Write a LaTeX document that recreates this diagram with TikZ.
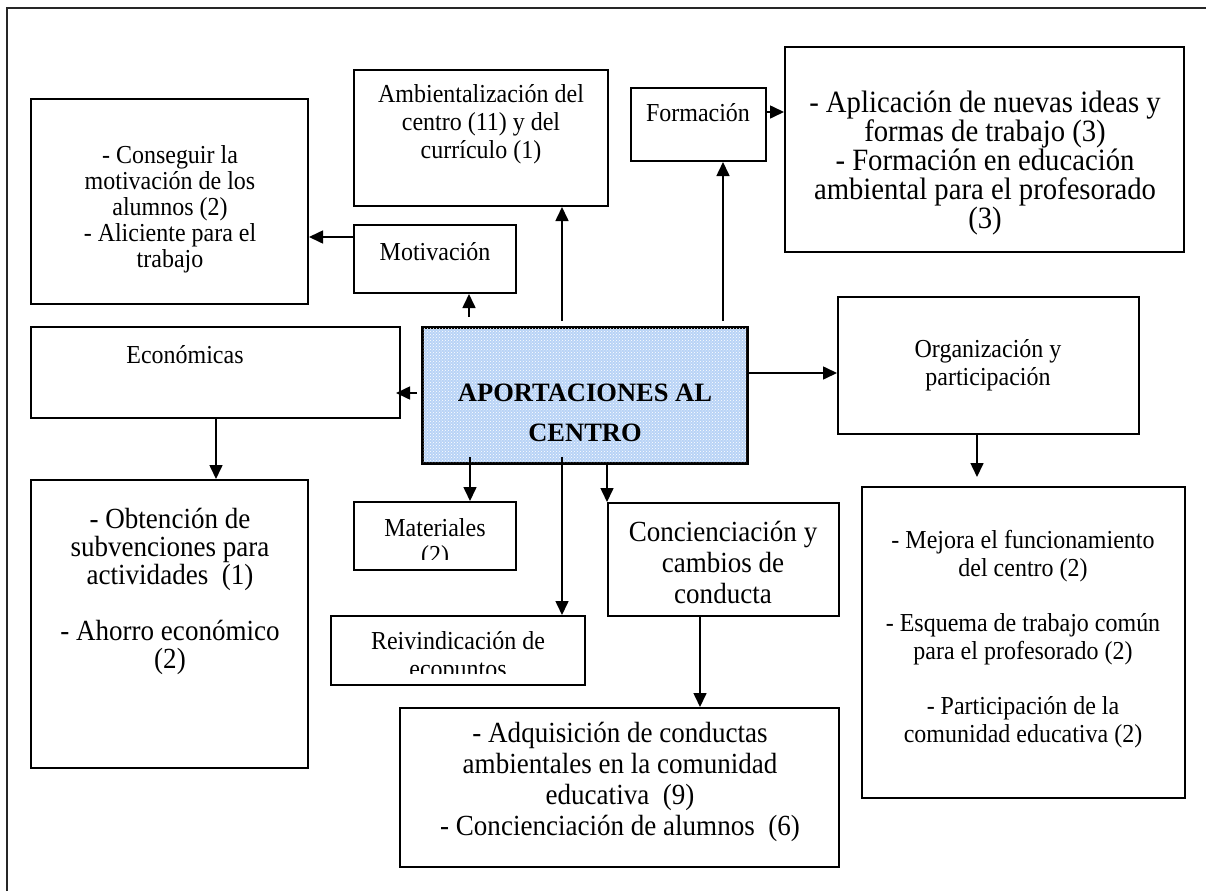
\documentclass[tikz,border=0pt]{standalone}
\usepackage{fontspec}
\setmainfont{Liberation Serif}[FakeStretch=0.926]
\newfontfamily\boldplain{Liberation Serif}
\usetikzlibrary{arrows.meta,fit,patterns}
\newcommand\fsz[2]{\fontsize{#1}{#2}\selectfont}
\definecolor{cfill}{RGB}{184,211,246}
\begin{document}
\begin{tikzpicture}[x=1pt,y=-1pt,
  box/.style={draw,line width=2pt,inner sep=0pt},
  txt/.style={align=center,inner sep=0pt},
  arr/.style={line width=1.6pt,-{Triangle[length=14pt,width=13pt]}}]
\useasboundingbox (0,0) rectangle (1206,891);
\draw[line width=2pt,black!85] (7,891) -- (7,8) -- (1206,8);
% boxes
\node[box,fit={(31,99)(308,304)}] (A) {};
\node[box,fit={(354,70)(608,206)}] (B) {};
\node[box,fit={(631,88)(766,161)}] (C) {};
\node[box,fit={(785,47)(1184,252)}] (D) {};
\node[box,fit={(354,225)(516,293)}] (E) {};
\node[box,fit={(31,327)(400,418)}] (F) {};
\node[box,fit={(423,328)(747,463)},fill=cfill] (G) {};
\fill[pattern=crosshatch dots,pattern color=white] (G.south west) rectangle (G.north east);
\draw[line width=2pt] (G.south west) rectangle (G.north east);
\node[box,fit={(838,297)(1139,434)}] (H) {};
\node[box,fit={(31,480)(308,768)}] (I) {};
\node[box,fit={(354,502)(516,570)}] (J) {};
\node[box,fit={(331,616)(585,685)}] (K) {};
\node[box,fit={(608,503)(839,616)}] (L) {};
\node[box,fit={(400,708)(839,867)}] (M) {};
\node[box,fit={(862,487)(1185,798)}] (N) {};
% texts
\node[txt,font=\fsz{25.9}{26}] (At) at (170,209) {- Conseguir la\\motivación de los\\alumnos (2)\\- Aliciente para el\\trabajo};
\node[txt,font=\fsz{25.9}{28}] (Bt) at (481,124) {Ambientalización del\\centro (11) y del\\currículo (1)};
\node[txt,font=\fsz{25.9}{28}] (Ct) at (698,113) {Formación};
\node[txt,font=\fsz{31}{29}] (Dt) at (985,163) {- Aplicación de nuevas ideas y\\formas de trabajo (3)\\- Formación en educación\\ambiental para el profesorado\\(3)};
\node[txt,font=\fsz{25.9}{28}] (Et) at (435,252) {Motivación};
\node[txt,font=\fsz{25.9}{28}] (Ft) at (185,355) {Económicas};
\node[txt,font=\boldplain\bfseries\fsz{26.5}{40}] (Gt) at (585,413) {APORTACIONES AL\\CENTRO};
\node[txt,font=\fsz{25.9}{28}] (Ht) at (988,365) {Organización y\\participación};
\node[txt,font=\fsz{29.2}{28}] (It) at (170,591) {- Obtención de\\subvenciones para\\actividades~ (1)\\[28pt]- Ahorro económico\\(2)};
\begin{scope}
\clip (354,502) rectangle (516,559);
\node[txt,font=\fsz{25.9}{27}] (Jt) at (435,544) {Materiales\\(2)};
\end{scope}
\begin{scope}
\clip (331,616) rectangle (585,673);
\node[txt,font=\fsz{25.9}{28}] (Kt) at (458,657) {Reivindicación de\\ecopuntos};
\end{scope}
\node[txt,font=\fsz{29.2}{31}] (Lt) at (723,562) {Concienciación y\\cambios de\\conducta};
\node[txt,font=\fsz{29.2}{31}] (Mt) at (620,782) {- Adquisición de conductas\\ambientales en la comunidad\\educativa~ (9)\\- Concienciación de alumnos~ (6)};
\node[txt,font=\fsz{25.9}{28}] (Nt) at (1023,639) {- Mejora el funcionamiento\\del centro (2)\\[27pt]- Esquema de trabajo común\\para el profesorado (2)\\[27pt]- Participación de la\\comunidad educativa (2)};
% connectors
\coordinate (m1) at (0,237);
\draw[arr] (E.west |- m1) -- (A.east |- m1);
\coordinate (g1) at (469,317);
\draw[arr] (g1) -- (g1 |- E.south);
\coordinate (g2) at (562,321);
\draw[arr] (g2) -- (g2 |- B.south);
\coordinate (g3) at (723,321);
\draw[arr] (g3) -- (g3 |- C.south);
\coordinate (m2) at (0,112);
\draw[arr] (C.east |- m2) -- (D.west |- m2);
\coordinate (g4) at (417,393);
\draw[arr,shorten >=-5pt] (g4) -- (F.east |- g4);
\coordinate (m3) at (0,373);
\draw[arr] (G.east |- m3) -- (H.west |- m3);
\coordinate (m4) at (216,0);
\draw[arr] (F.south -| m4) -- (I.north -| m4);
\coordinate (m5) at (977,0);
\draw[arr,shorten >=9pt] (H.south -| m5) -- (N.north -| m5);
\coordinate (g5) at (470,457);
\draw[arr] (g5) -- (g5 |- J.north);
\coordinate (g6) at (562,457);
\draw[arr] (g6) -- (g6 |- K.north);
\coordinate (m6) at (607,0);
\draw[arr] (G.south -| m6) -- (L.north -| m6);
\coordinate (m7) at (700,0);
\draw[arr] (L.south -| m7) -- (M.north -| m7);
\end{tikzpicture}
\end{document}
